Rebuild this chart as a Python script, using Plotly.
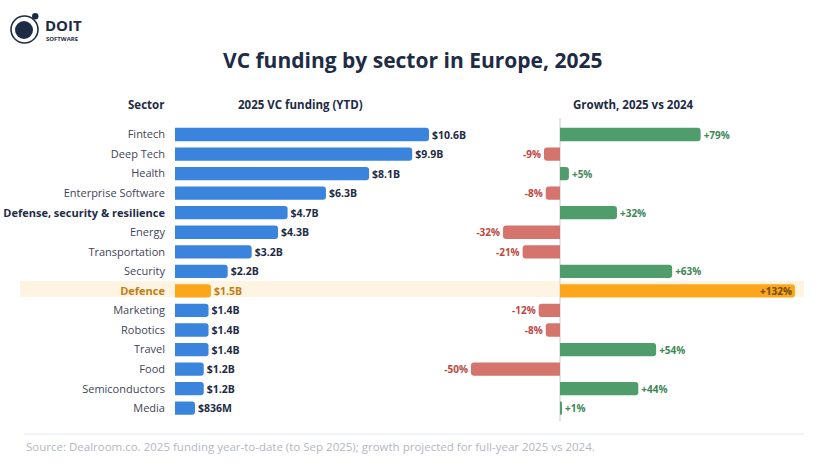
import plotly.graph_objects as go

W, H = 824, 475

sectors = ["Fintech", "Deep Tech", "Health", "Enterprise Software",
           "Defense, security & resilience", "Energy", "Transportation", "Security",
           "Defence", "Marketing", "Robotics", "Travel", "Food", "Semiconductors", "Media"]
funding_b = [10.6, 9.9, 8.1, 6.3, 4.7, 4.3, 3.2, 2.2, 1.5, 1.4, 1.4, 1.4, 1.2, 1.2, 0.836]
funding_labels = ["$10.6B", "$9.9B", "$8.1B", "$6.3B", "$4.7B", "$4.3B", "$3.2B", "$2.2B",
                  "$1.5B", "$1.4B", "$1.4B", "$1.4B", "$1.2B", "$1.2B", "$836M"]
growth_pct = [79, -9, 5, -8, 32, -32, -21, 63, 132, -12, -8, 54, -50, 44, 1]
highlight = "Defence"
bold_sector = "Defense, security & resilience"

FONT = "Open Sans"
NAVY = "#1e2b45"
BLUE = "#3b84de"
ORANGE = "#fca61c"
ORANGE_TXT = "#c27d12"
GREEN = "#4f9d6b"
GREEN_TXT = "#3d8655"
RED = "#d5736d"
RED_TXT = "#c0453d"

def px(x):
    return x / W

def py(y):
    return 1 - y / H

# colours per bar
left_colors = [ORANGE if s == highlight else BLUE for s in sectors]
left_txt = [ORANGE_TXT if s == highlight else NAVY for s in sectors]
right_colors = [ORANGE if s == highlight else (GREEN if g >= 0 else RED) for s, g in zip(sectors, growth_pct)]
right_txt = ["#6e4b0e" if s == highlight else (GREEN_TXT if g >= 0 else RED_TXT) for s, g in zip(sectors, growth_pct)]
right_pos = ["inside" if s == highlight else "outside" for s in sectors]
growth_labels = [("+%d%%" % g) if g >= 0 else ("%d%%" % g) for g in growth_pct]

ticktext = []
for s in sectors:
    if s == highlight:
        ticktext.append("<b><span style='color:%s'>%s</span></b>" % (ORANGE_TXT, s))
    elif s == bold_sector:
        ticktext.append("<b><span style='color:%s'>%s</span></b>" % (NAVY, s))
    else:
        ticktext.append(s)

fig = go.Figure()
fig.add_trace(go.Bar(
    x=funding_b, y=sectors, orientation="h", xaxis="x", yaxis="y",
    marker=dict(color=left_colors, cornerradius=3, line=dict(width=0)),
    width=0.68,
    text=funding_labels, textposition="outside", cliponaxis=False, constraintext="none",
    textfont=dict(family=FONT, size=10.5, color=left_txt, weight="bold"),
    hoverinfo="skip", showlegend=False,
))
fig.add_trace(go.Bar(
    x=growth_pct, y=sectors, orientation="h", xaxis="x2", yaxis="y",
    marker=dict(color=right_colors, cornerradius=3, line=dict(width=0)),
    width=0.68,
    text=growth_labels, textposition=right_pos, insidetextanchor="end",
    cliponaxis=False, constraintext="none",
    textfont=dict(family=FONT, size=10, color=right_txt, weight="bold"),
    hoverinfo="skip", showlegend=False,
))

# axis geometry (pixels)
L0, L1 = 175, 455
lscale = 23.96  # px per $B
R0, R1 = 460, 810
zero_x = 560
rscale = 1.78   # px per %
row_top, row_step = 134.5, 19.55
ytop = row_top - row_step / 2
ybot = ytop + row_step * len(sectors)

shapes = [
    # highlight band
    dict(type="rect", xref="paper", yref="paper", x0=px(20), x1=px(804),
         y0=py(297), y1=py(281), fillcolor="#fff4e2", line=dict(width=0), layer="below"),
    # zero line for growth
    dict(type="line", xref="x2", yref="paper", x0=0, x1=0, y0=py(118), y1=py(421),
         line=dict(color="#e2e4ea", width=2), layer="below"),
    # footer rule
    dict(type="line", xref="paper", yref="paper", x0=px(24), x1=px(804), y0=py(434), y1=py(434),
         line=dict(color="#e6e8ed", width=1)),
    # logo
    dict(type="circle", xref="paper", yref="paper", x0=px(11), x1=px(38), y0=py(16), y1=py(43),
         line=dict(color=NAVY, width=1.6), fillcolor="rgba(0,0,0,0)"),
    dict(type="circle", xref="paper", yref="paper", x0=px(15), x1=px(33), y0=py(21), y1=py(39),
         line=dict(width=0), fillcolor=NAVY),
    dict(type="circle", xref="paper", yref="paper", x0=px(32), x1=px(38.5), y0=py(13), y1=py(19.5),
         line=dict(width=0), fillcolor=NAVY),
]

annotations = [
    dict(text="<b>VC funding by sector in Europe, 2025</b>", x=px(412), y=py(60), xref="paper", yref="paper",
         showarrow=False, xanchor="center", yanchor="middle", font=dict(family=FONT, size=21, color=NAVY)),
    dict(text="<b>DOIT</b>", x=px(43), y=py(25.5), xref="paper", yref="paper", showarrow=False,
         xanchor="left", yanchor="middle", font=dict(family=FONT, size=15, color=NAVY)),
    dict(text="<b>SOFTWARE</b>", x=px(43.5), y=py(39.5), xref="paper", yref="paper", showarrow=False,
         xanchor="left", yanchor="middle", font=dict(family=FONT, size=6, color=NAVY)),
    dict(text="<b>Sector</b>", x=px(166), y=py(104), xref="paper", yref="paper", showarrow=False,
         xanchor="right", yanchor="middle", font=dict(family=FONT, size=11.5, color=NAVY)),
    dict(text="<b>2025 VC funding (YTD)</b>", x=px(300), y=py(104), xref="paper", yref="paper", showarrow=False,
         xanchor="center", yanchor="middle", font=dict(family=FONT, size=11.5, color=NAVY)),
    dict(text="<b>Growth, 2025 vs 2024</b>", x=px(633), y=py(104), xref="paper", yref="paper", showarrow=False,
         xanchor="center", yanchor="middle", font=dict(family=FONT, size=11.5, color=NAVY)),
    dict(text="Source: Dealroom.co. 2025 funding year-to-date (to Sep 2025); growth projected for full-year 2025 vs 2024.",
         x=px(24), y=py(446), xref="paper", yref="paper", showarrow=False,
         xanchor="left", yanchor="middle", font=dict(family=FONT, size=11.5, color="#b3b7bf")),
]

fig.update_layout(
    width=W, height=H, margin=dict(l=0, r=0, t=0, b=0),
    paper_bgcolor="white", plot_bgcolor="rgba(0,0,0,0)",
    font=dict(family=FONT, color="#3e4556"),
    bargap=0.32,
    xaxis=dict(domain=[px(L0), px(L1)], range=[0, (L1 - L0) / lscale], visible=False, fixedrange=True),
    xaxis2=dict(domain=[px(R0), px(R1)], range=[-(zero_x - R0) / rscale, (R1 - zero_x) / rscale],
                visible=False, anchor="y", fixedrange=True),
    yaxis=dict(domain=[py(ybot), py(ytop)], categoryorder="array", categoryarray=sectors,
               autorange="reversed", tickmode="array", tickvals=sectors, ticktext=ticktext,
               tickfont=dict(family=FONT, size=11, color="#3e4556"), ticks="", showgrid=False,
               zeroline=False, showline=False, ticklabelstandoff=9, fixedrange=True),
    shapes=shapes, annotations=annotations,
)

fig.write_html("out.html")
